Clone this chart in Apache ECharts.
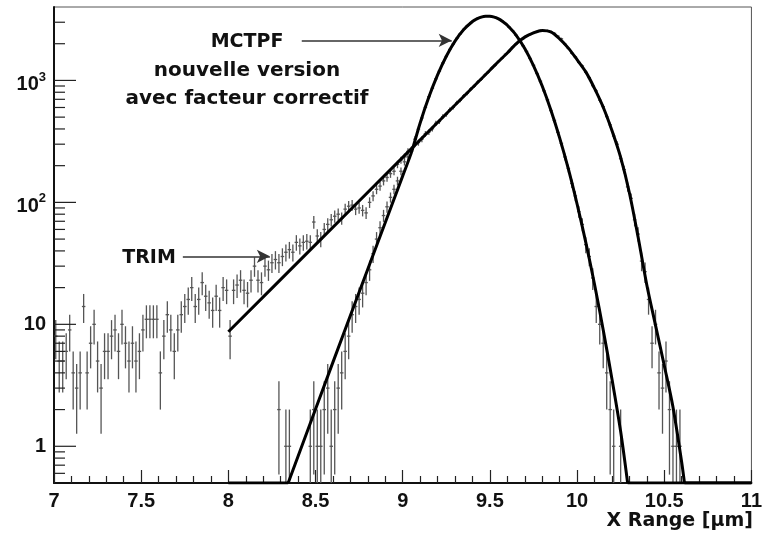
<!DOCTYPE html>
<html>
<head>
<meta charset="utf-8">
<script src="https://cdn.jsdelivr.net/npm/echarts@6/dist/echarts.min.js"></script>
<style>
html,body{margin:0;padding:0;background:#fff;}
#chart{width:765px;height:535px;}
</style>
</head>
<body>
<div id="chart"></div>
<script>
// ---------------- DATA ----------------
const BIN = 0.02;
// TRIM histogram: first bin starts at 7.00
const trimStart = 7.00;
const trimCounts = [
  8,5,5,6,9,4,3,4,14,4, 7,10,5,3,6,6,8,9,6,10,
  7,5,7,5,6,9,11,11,11,11, 4,8,12,9,6,9,12,14,16,20,
  14,16,22,17,15,13,17,13,20,19,
  8,19,21,23,19,18,23,30,23,22, 30,28,32,34,32,36,39,41,39,47,
  44,47,48,47,69,53,50,60,66,72, 77,80,74,88,93,95,88,90,86,82,
  100,113,128,136,150,160,172,180,205,222,
  236,262,270,301,309,330,365,377,401,445, 460,505,526,575,601,655,688,748,785,851,
  895,970,1020,1105,1168,1260,1332,1437,1520,1640, 1730,1870,1985,2120,2205,2310,2380,2465,2505,2570,
  2560,2555,2490,2435,2305,2195,1985,1830,1670,1560, 1405,1315,1165,1055,905,820,690,610,505,432,
  350,300,228,186,134,108,72,55,33,27, 16,7,10,4,3,5,2,1,1,1
];
// MCTPF histogram: first bin starts at 8.26
const mctpfStart = 8.26;
const mctpfCounts = [
  0,2,0,1,1,0,0,0,0,0,
  1,2,1,1,2,3,1,2,3,4,
  6,8,12,14,16,18,22,28,38,50,
  62,78,92,110,128,150,180,215,236,262,
  330,398,492,600,735,862,1030,1190,1390,1570,
  1795,1990,2215,2410,2620,2790,2980,3095,3230,3290,
  3360,3372,3330,3290,3180,3070,2925,2735,2560,2345,
  2150,1925,1730,1515,1330,1140,985,822,695,566,
  470,375,305,236,190,143,113,84,66,45,
  36,24,14,10,7,4,2,1,0,1,
  0,0
];
// Fit curves
const trimFitX = [8.0, 8.5, 9.0, 9.5, 9.56, 9.6, 9.65, 9.7, 9.75, 9.8, 9.85, 9.9, 9.95, 10.0, 10.05, 10.1, 10.15, 10.2, 10.25, 10.3, 10.35, 10.4, 10.45, 10.5, 10.55, 10.6, 10.616];
const trimFitY = [8.7, 45, 234, 1213, 1479, 1679, 1995, 2265, 2455, 2570, 2500, 2188, 1840, 1479, 1175, 861, 603, 389, 234, 120, 52, 21, 9.8, 4.6, 2.1, 0.74, 0.5];
const trimFlatX = [10.616, 11.0];
const mctpfFitX = [8.343, 8.6, 8.8, 9.0, 9.05, 9.1, 9.15, 9.2, 9.25, 9.3, 9.35, 9.4, 9.425, 9.45, 9.475, 9.5, 9.525, 9.55, 9.575, 9.6, 9.65, 9.7, 9.75, 9.8, 9.85, 9.9, 9.95, 10.0, 10.05, 10.1, 10.15, 10.2, 10.25, 10.29];
const mctpfFitY = [0.5, 4.9, 28.4, 165, 257, 448, 730, 1109, 1578, 2099, 2612, 3041, 3195, 3304, 3357, 3357, 3301, 3192, 3032, 2831, 2355, 1828, 1324, 899, 570, 338, 188, 97, 47, 21.3, 9.0, 3.57, 1.32, 0.5];
const mctpfFlatLeftX = [8.0, 8.343];
const mctpfFlatRightX = [10.29, 11.0];
// Axes
const xMin = 7, xMax = 11, xStep = 0.5;
const yMin = 0.5, yMax = 4000;
const yMajorTicks = [1, 10, 100, 1000];
const yMinorTicks = [0.6,0.7,0.8,0.9, 2,3,4,5,6,7,8,9, 20,30,40,50,60,70,80,90, 200,300,400,500,600,700,800,900, 2000,3000];
const yLabels = {1:'1', 10:'10', 100:'{b|10}{sup|2}', 1000:'{b|10}{sup|3}'};
// Annotations
const annMCTPF = ['MCTPF', 'nouvelle version', 'avec facteur correctif'];
const annTRIM = 'TRIM';
const xTitle = 'X Range [\u03bcm]';
const arrowTRIM = [[7.739, 36.1], [8.238, 36.1]];
const arrowMCTPF = [[8.421, 2129], [9.281, 2129]];

// ---------------- CHART ----------------
const hist = (start, counts) => counts.map((n, i) => [+(start + BIN * (i + 0.5)).toFixed(3), n]);
const pairs = (xs, ys) => xs.map((x, i) => [x, ys[i]]);
const flat = xs => xs.map(x => [x, yMin]);

function renderErr(params, api) {
  const x = api.value(0), n = api.value(1);
  if (!(n > 0)) return null;
  const e = Math.sqrt(n);
  const lo = Math.max(n - e, yMin), hi = Math.min(n + e, yMax);
  const a = api.coord([x, lo]), b = api.coord([x, hi]);
  const l = api.coord([x - BIN / 2, n]), r = api.coord([x + BIN / 2, n]);
  const st = {stroke: '#555', lineWidth: 1.3};
  return {type: 'group', children: [
    {type: 'line', shape: {x1: a[0], y1: a[1], x2: b[0], y2: b[1]}, style: st},
    {type: 'line', shape: {x1: l[0], y1: l[1], x2: r[0], y2: r[1]}, style: st}
  ]};
}
function tickRenderer(len) {
  return function (params, api) {
    const p = api.coord([xMin, api.value(1)]);
    return {type: 'line', shape: {x1: p[0], y1: p[1], x2: p[0] + len, y2: p[1]}, style: {stroke: '#222', lineWidth: 1.2}};
  };
}

const chart = echarts.init(document.getElementById('chart'), null, {renderer: 'canvas'});
const lab = '"Liberation Sans", Arial, sans-serif';
const axisFont = {fontFamily: lab, fontWeight: 'bold', fontSize: 20, color: '#111'};
const annFont = '"DejaVu Sans", "Comic Sans MS", sans-serif';
const fitLine = {color: '#000', width: 3};

chart.setOption({
  animation: false,
  backgroundColor: '#fff',
  grid: {left: 54, top: 7, width: 698, height: 476, show: true, borderColor: '#555', borderWidth: 1, containLabel: false},
  xAxis: {
    type: 'value', min: xMin, max: xMax, interval: xStep,
    axisLine: {lineStyle: {color: '#111', width: 2}},
    axisTick: {inside: true, length: 13, lineStyle: {color: '#222', width: 1.2}},
    minorTick: {show: true, splitNumber: 5, length: 7, lineStyle: {color: '#222', width: 1.2}},
    splitLine: {show: false},
    axisLabel: Object.assign({margin: 8}, axisFont)
  },
  yAxis: {
    type: 'log', logBase: 10, min: yMin, max: yMax,
    axisLine: {lineStyle: {color: '#111', width: 2}},
    axisTick: {show: false},
    splitLine: {show: false},
    axisLabel: Object.assign({
      margin: 8,
      formatter: function (v) {
        const k = Math.round(v);
        return (Math.abs(v - k) < 1e-6 && yLabels[k]) ? yLabels[k] : '';
      },
      rich: {
        b: {fontFamily: lab, fontWeight: 'bold', fontSize: 20, color: '#111', lineHeight: 24, padding: [8, 0, 0, 0]},
        sup: {fontFamily: lab, fontWeight: 'bold', fontSize: 13, color: '#111', verticalAlign: 'top', lineHeight: 14, padding: [2, 0, 0, 0]}
      }
    }, axisFont, {lineHeight: 24})
  },
  graphic: [
    {type: 'text', x: 247, y: 42, style: {text: annMCTPF[0], font: 'bold 19px ' + annFont, fill: '#111', align: 'center', verticalAlign: 'middle'}},
    {type: 'text', x: 247, y: 71, style: {text: annMCTPF[1], font: 'bold 20px ' + annFont, fill: '#111', align: 'center', verticalAlign: 'middle'}},
    {type: 'text', x: 247, y: 99, style: {text: annMCTPF[2], font: 'bold 20px ' + annFont, fill: '#111', align: 'center', verticalAlign: 'middle'}},
    {type: 'text', x: 149, y: 258, style: {text: annTRIM, font: 'bold 19px ' + annFont, fill: '#111', align: 'center', verticalAlign: 'middle'}},
    {type: 'text', x: 753, y: 521, style: {text: xTitle, font: 'bold 19px ' + annFont, fill: '#111', align: 'right', verticalAlign: 'middle'}}
  ],
  series: [
    {type: 'custom', name: 'ticksMajor', renderItem: tickRenderer(22), data: yMajorTicks.map(v => [xMin, v]), z: 5, silent: true},
    {type: 'custom', name: 'ticksMinor', renderItem: tickRenderer(11), data: yMinorTicks.map(v => [xMin, v]), z: 5, silent: true},
    {type: 'custom', name: 'TRIM data', renderItem: renderErr, data: hist(trimStart, trimCounts), clip: true, z: 2, silent: true},
    {type: 'custom', name: 'MCTPF data', renderItem: renderErr, data: hist(mctpfStart, mctpfCounts), clip: true, z: 2, silent: true},
    {type: 'line', name: 'TRIM fit', data: pairs(trimFitX, trimFitY), smooth: 0.3, symbol: 'none', lineStyle: fitLine, z: 4, silent: true,
      markLine: {
        silent: true, symbol: ['none', 'arrow'], symbolSize: [10, 13],
        lineStyle: {color: '#333', width: 1.5, type: 'solid'}, label: {show: false},
        data: [
          [{coord: arrowTRIM[0]}, {coord: arrowTRIM[1]}],
          [{coord: arrowMCTPF[0]}, {coord: arrowMCTPF[1]}]
        ]
      }
    },
    {type: 'line', name: 'TRIM flat', data: flat(trimFlatX), symbol: 'none', lineStyle: fitLine, z: 4, silent: true},
    {type: 'line', name: 'MCTPF fit', data: pairs(mctpfFitX, mctpfFitY), smooth: 0.3, symbol: 'none', lineStyle: fitLine, z: 4, silent: true},
    {type: 'line', name: 'MCTPF flat L', data: flat(mctpfFlatLeftX), symbol: 'none', lineStyle: fitLine, z: 4, silent: true},
    {type: 'line', name: 'MCTPF flat R', data: flat(mctpfFlatRightX), symbol: 'none', lineStyle: fitLine, z: 4, silent: true}
  ]
});
</script>
</body>
</html>
